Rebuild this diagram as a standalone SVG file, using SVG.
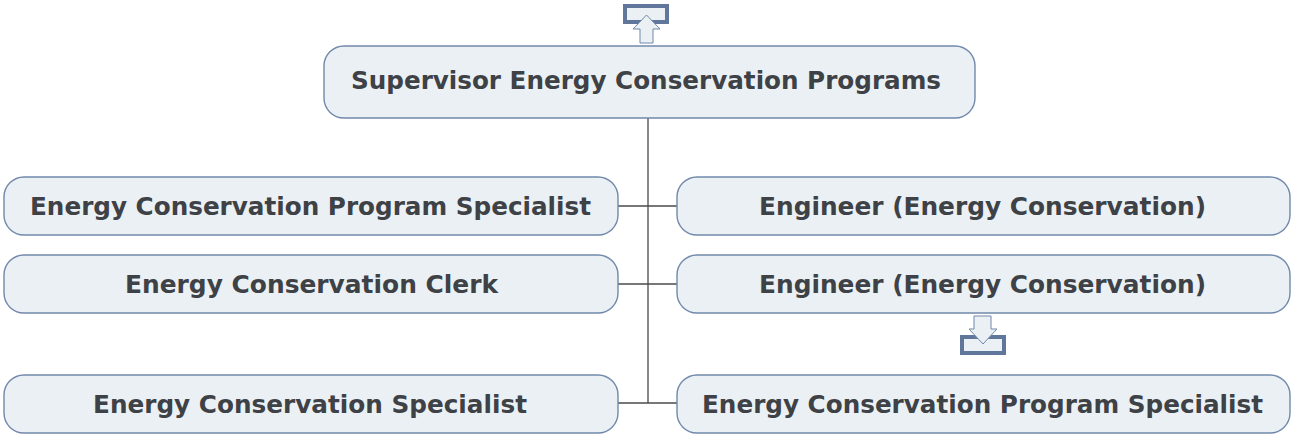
<svg xmlns="http://www.w3.org/2000/svg" width="1293" height="436" viewBox="0 0 1293 436">
<style>
.node rect{fill:#ebf0f4;stroke:#7289ab;stroke-width:1.4}
.node text{font-family:"DejaVu Sans",Verdana,sans-serif;font-weight:bold;font-size:25px;fill:#3e4145;text-anchor:middle}
.conn line{stroke:#4a4a4a;stroke-width:1.3}
.frame{fill:#ebf0f4;stroke:#60779b;stroke-width:4}
.arrow{fill:#ebf0f4;stroke:#7088a8;stroke-width:1}
</style>
<rect width="1293" height="436" fill="#fff"/>
<g class="conn">
<line x1="648" y1="118" x2="648" y2="403"/>
<line x1="618" y1="206" x2="677" y2="206"/>
<line x1="618" y1="284" x2="677" y2="284"/>
<line x1="618" y1="403" x2="677" y2="403"/>
</g>
<g id="icon-up">
<rect class="frame" x="625" y="6" width="42" height="16"/>
<path class="arrow" d="M646.5,15 L660,29 L653,29 L653,43 L640,43 L640,29 L633,29 Z"/>
</g>
<g id="icon-down">
<rect class="frame" x="962" y="337" width="42" height="16"/>
<path class="arrow" d="M974,316 L991,316 L991,329 L997,329 L983,344 L969,329 L974,329 Z"/>
</g>
<g id="n0" class="node"><rect x="324" y="46" width="651" height="72" rx="20"/><text x="646" y="89" textLength="590" lengthAdjust="spacingAndGlyphs">Supervisor Energy Conservation Programs</text></g>
<g id="n1" class="node"><rect x="4" y="177" width="614" height="58" rx="20"/><text x="310.5" y="215" textLength="561" lengthAdjust="spacingAndGlyphs">Energy Conservation Program Specialist</text></g>
<g id="n2" class="node"><rect x="677" y="177" width="613" height="58" rx="20"/><text x="982.5" y="215" textLength="447" lengthAdjust="spacingAndGlyphs">Engineer (Energy Conservation)</text></g>
<g id="n3" class="node"><rect x="4" y="255" width="614" height="58" rx="20"/><text x="311.5" y="293" textLength="373" lengthAdjust="spacingAndGlyphs">Energy Conservation Clerk</text></g>
<g id="n4" class="node"><rect x="677" y="255" width="613" height="58" rx="20"/><text x="982.5" y="293" textLength="447" lengthAdjust="spacingAndGlyphs">Engineer (Energy Conservation)</text></g>
<g id="n5" class="node"><rect x="4" y="375" width="614" height="58" rx="20"/><text x="310" y="413" textLength="434" lengthAdjust="spacingAndGlyphs">Energy Conservation Specialist</text></g>
<g id="n6" class="node"><rect x="677" y="375" width="613" height="58" rx="20"/><text x="982.5" y="413" textLength="561" lengthAdjust="spacingAndGlyphs">Energy Conservation Program Specialist</text></g>
</svg>
